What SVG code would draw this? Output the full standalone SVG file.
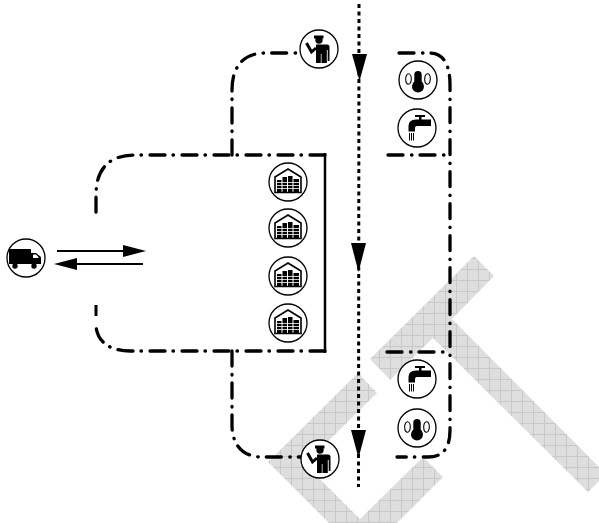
<svg xmlns="http://www.w3.org/2000/svg" width="599" height="523" viewBox="0 0 599 523">
<style>
.dd{fill:none;stroke:#000;stroke-width:3.300;stroke-dasharray:15 8.500 0.500 8;stroke-linecap:round}
.dot{fill:none;stroke:#000;stroke-width:3;stroke-dasharray:4 3.500}
.ln{fill:none;stroke:#000;stroke-width:2}
.hd{fill:#000}
.c{fill:#fff;stroke:#000;stroke-width:1.300}
.o{fill:#fff;stroke:#000;stroke-width:1.100}
</style>
<defs>
<pattern id="wm" width="11" height="11" patternUnits="userSpaceOnUse">
<rect width="11" height="11" fill="#dedede"/>
<path d="M0 5.500H11M5.500 0V11" stroke="#c8c8c8" stroke-width="1"/>
</pattern>
<g id="truck">
<circle class="c" r="19"/>
<rect x="-17" y="-9" width="22" height="15" fill="#000"/>
<path d="M5-5H10L15-1V6H5Z" fill="#000"/>
<path d="M7-3.500H10L12.500-1V0H7Z" fill="#fff"/>
<circle cx="-11" cy="8" r="2.700" fill="#000"/>
<circle cx="8" cy="8" r="2.700" fill="#000"/>
</g>
<g id="wh">
<circle class="c" r="19"/>
<path d="M-13 10.500V-5L0-13L13-5V10.500Z" fill="none" stroke="#000" stroke-width="1.600"/>
<path d="M-11 10V-2H-6.500V10ZM-5.500 10V-5H-1V10ZM0 10V-6H4.500V10ZM5.500 10V-3H11V10Z" fill="#000"/>
<path d="M-11 0.500H11M-11 3.500H11M-11 6.500H11" stroke="#fff" stroke-width="0.800"/>
</g>
<g id="man">
<circle class="c" r="19"/>
<path d="M-5-13.500H4.500V-10.500H-5Z" fill="#000"/>
<circle cx="0" cy="-9" r="3.700" fill="#000"/>
<path d="M-3-4.500H8Q10.500-4.500 10.500-2V12H8.700V1H7.800V14H2.500V5H1.800V14H-3Z" fill="#000"/>
<path d="M-12.500-6L-7.500 3L-3-1" stroke="#000" stroke-width="3" fill="none"/>
</g>
<g id="therm">
<circle class="c" r="19"/>
<rect x="-3.700" y="-9" width="7.400" height="16" rx="3.700" fill="#000"/>
<circle cy="6.500" r="6" fill="#000"/>
<ellipse class="o" cx="-9.500" cy="-1" rx="2.800" ry="5.200"/>
<ellipse class="o" cx="9.500" cy="-1" rx="2.800" ry="5.200"/>
</g>
<g id="tap">
<circle class="c" r="19"/>
<path d="M-2-13H8V-11H4.500V-8.500H14V-2H0Q-2-2-2 0V3.500H-8.500V-2Q-8.500-8.500-1-8.500H2V-11H-2Z" fill="#000"/>
<path d="M-7.500 5V12.500M-5.500 5V12.500M-3.500 5V12.500" stroke="#000" stroke-width="1" fill="none"/>
</g>
</defs>
<g id="watermark" fill="url(#wm)">
<polygon points="474,256 370,359 390,380 433,338 588,492 599,481 599,467 452,319 494,276"/>
<polygon points="358,373 268,462 329,523 397,523 443,477 423,457 360,519 305,464 377,393"/>
</g>
<g id="connectors">
<path class="dot" d="M359 4L358.500 487"/>
<path class="hd" d="M352 54H367L359.500 81Z"/>
<path class="hd" d="M351 243H366L358.500 272Z"/>
<path class="hd" d="M351 430H366L358.500 458Z"/>
<path class="dd" d="M325 155H135C108 155 96 170 96 195V212"/>
<path class="dd" d="M325 351H130C108 351 96 340 96 324"/>
<path class="ln" style="stroke-width:3" d="M96 305V316"/>
<path class="ln" style="stroke-width:2.500" d="M325 153V353"/>
<path class="dd" d="M232 155V90C232 66 244 53 265 53H300"/>
<path class="dd" d="M232 351V425C232 446 244 457 262 457H303"/>
<path class="dd" d="M399 53H430C443 53 450 64 450 85V430C450 448 443 457 428 457H397"/>
<path class="dd" d="M388 155H450"/>
<path class="dd" d="M387 352H450"/>
<path class="ln" d="M57 251H125"/>
<path class="hd" d="M123 245L146 251L123 257Z"/>
<path class="ln" d="M143 264H75"/>
<path class="hd" d="M77 258L54 264L77 270Z"/>
</g>
<g id="truck-node"><use href="#truck" x="26" y="258"/></g>
<g id="warehouse-1"><use href="#wh" x="288" y="182"/></g>
<g id="warehouse-2"><use href="#wh" x="288" y="228"/></g>
<g id="warehouse-3"><use href="#wh" x="288" y="276"/></g>
<g id="warehouse-4"><use href="#wh" x="288" y="323"/></g>
<g id="man-top"><use href="#man" x="319" y="49"/></g>
<g id="man-bottom"><use href="#man" x="320" y="459"/></g>
<g id="therm-top"><use href="#therm" x="418" y="80"/></g>
<g id="tap-top"><use href="#tap" x="417" y="128"/></g>
<g id="tap-bottom"><use href="#tap" x="417" y="379"/></g>
<g id="therm-bottom"><use href="#therm" x="417" y="428"/></g>
</svg>
